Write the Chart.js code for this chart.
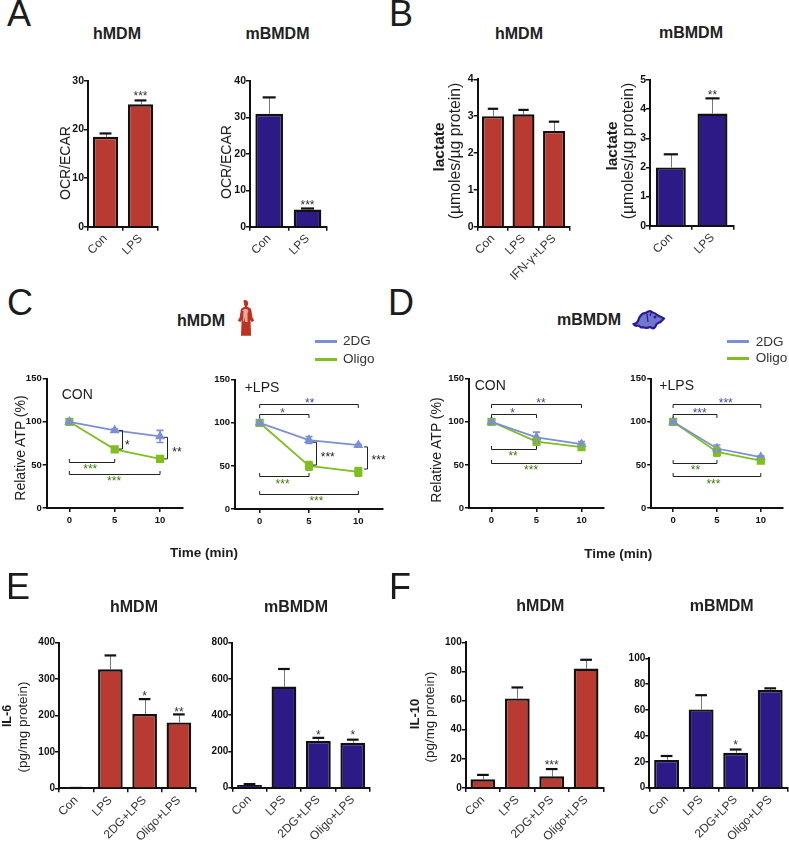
<!DOCTYPE html>
<html><head><meta charset="utf-8">
<script src="https://cdn.jsdelivr.net/npm/chart.js@4"></script>
<style>
html,body{margin:0;padding:0;background:#fff;width:789px;height:843px;overflow:hidden}
#fig{position:relative;width:789px;height:843px;overflow:hidden;font-family:"Liberation Sans",Arial,sans-serif;color:#1c1c1c}
canvas{position:absolute}
.t{position:absolute;white-space:nowrap;line-height:1;transform:translate(-50%,-50%)}
.v{transform:translate(-50%,-50%) rotate(-90deg)}
.l{transform:translate(0,-50%)}
.sw{position:absolute;height:3px}
svg{position:absolute}
</style></head><body><div id="fig"></div>
<script>
// ---------- data ----------
const catsTwo = ['Con','LPS'];
const catsThree = ['Con','LPS','IFN-γ+LPS'];
const catsFour = ['Con','LPS','2DG+LPS','Oligo+LPS'];
const timeTicks = [0,5,10];

const aHumanVals = [18.5,25.2];      const aHumanErr = [19.2,26];
const aMouseVals = [31,4.7];         const aMouseErr = [35.5,5];
const bHumanVals = [3.0,3.05,2.6];   const bHumanErr = [3.2,3.17,2.85];
const bMouseVals = [2.0,3.85];       const bMouseErr = [2.45,4.37];
const eHumanVals = [0,327,204,181];  const eHumanErr = [1,365,245,203];
const eMouseVals = [15,558,258,248]; const eMouseErr = [20,655,275,265];
const fHumanVals = [6,61.5,8,82];    const fHumanErr = [9,69,13,88];
const fMouseVals = [21.5,60.5,27,75.5]; const fMouseErr = [24.5,71.5,29.5,76.8];

const aHumanStars = [[1,27.4,'***']];
const aMouseStars = [[1,6.5,'***']];
const bHumanStars = [];
const bMouseStars = [[1,4.57,'**']];
const eHumanStars = [[2,259,'*'],[3,215,'**']];
const eMouseStars = [[2,302,'*'],[3,302,'*']];
const fHumanStars = [[2,17.6,'***']];
const fMouseStars = [[2,34.8,'*']];

const cConDg = [100,90,83];     const cConDgErr = [0,2,7];
const cConOl = [100,68,57];     const cConOlErr = [0,2,3];
const cLpsDg = [100,80,74];     const cLpsDgErr = [0,4,1];
const cLpsOl = [100,50,43];     const cLpsOlErr = [0,5,5];
const dConDg = [100,82,74];     const dConDgErr = [0,6,3];
const dConOl = [100,77,70.5];   const dConOlErr = [0,4,1.5];
const dLpsDg = [100,69,59];     const dLpsDgErr = [0,4,1.5];
const dLpsOl = [100,65,55];     const dLpsOlErr = [0,5,2];

// significance brackets, in axis units: [from, to, value, tick direction(+1 up from bracket, -1 down), kind]
const cConBrackets = [[0,5,53,1,'k'],[0,10,40,1,'k']];
const cConSides = [[5.84,90,68.4],[10.77,82,57]];
const cConMarks = [[2.3,48,'***','g'],[4.93,34.5,'***','g'],[6.4,76,'*','k'],[11.86,67.7,'**','k']];
const cLpsBrackets = [[0,10,121.4,-1,'k'],[0,5,110,-1,'k'],[0,5,38.3,1,'k'],[0,10,17,1,'k']];
const cLpsSides = [[5.75,77.4,51],[10.88,72,46.4]];
const cLpsMarks = [[5.08,125,'**','b'],[2.32,114.5,'*','b'],[2.32,31.3,'***','g'],[5.75,12,'***','g'],[6.9,63.4,'***','k'],[12.05,59,'***','k']];
const dConBrackets = [[0,10,121,-1,'k'],[0,5,109,-1,'k'],[0,5,68.4,1,'k'],[0,10,52.2,1,'k']];
const dConMarks = [[5.5,124.5,'**','b'],[2.33,113,'*','b'],[2.4,63,'**','g'],[4.4,46.8,'***','g']];
const dLpsBrackets = [[0,10,121,-1,'k'],[0,5,109,-1,'k'],[0,5,52.6,1,'k'],[0,10,37,1,'k']];
const dLpsMarks = [[6.0,124.5,'***','b'],[3.03,113,'***','b'],[2.55,47,'**','g'],[4.6,30.5,'***','g']];

// ---------- styles ----------
const RED='#b93a30', BLUE='#2e1a86', LBLUE='#7b90d4', GREEN='#7fbf1e', INK='#111';
const FONT='"Liberation Sans",Arial,sans-serif';
const KIND={k:'#222',b:'#3b4a96',g:'#3f7a0c'};
const fig=document.getElementById('fig');

function axisCommon(box){
  return {
    border:{color:INK,width:2},
    grid:{drawOnChartArea:false,drawTicks:true,tickLength:4,color:INK,lineWidth:1.5},
    afterFit:s=>{ if(s.isHorizontal()) s.height=box.bottomGap; else s.width=box.leftGap; },
  };
}
function makeCanvas(rect){
  const m={l:50,t:20,r:25,b:62};
  const left=Math.floor(Math.max(0,rect[0]-m.l)), top=Math.floor(rect[1]-m.t);
  const right=Math.ceil(Math.min(789,rect[2]+m.r)), bottom=Math.ceil(Math.min(843,rect[3]+m.b));
  const c=document.createElement('canvas');
  c.width=right-left; c.height=bottom-top;
  c.style.left=left+'px'; c.style.top=top+'px';
  c.style.width=(right-left)+'px'; c.style.height=(bottom-top)+'px';
  fig.appendChild(c);
  return {c,padding:{left:0,top:rect[1]-top,right:right-rect[2],bottom:0},
    box:{leftGap:rect[0]-left,bottomGap:bottom-rect[3]}};
}
function star(ctx,x,y,text,color,size){
  ctx.save();
  ctx.font=size+'px '+FONT; ctx.fillStyle=color; ctx.textAlign='center'; ctx.textBaseline='alphabetic';
  ctx.fillText(text,x,y+size*0.52);
  ctx.restore();
}
function barPanel(rect,cats,vals,errs,stars,color,maxV,step,tickSize){
  const {c,padding,box}=makeCanvas(rect);
  const marks={id:'marks',
    beforeDatasetsDraw(ch){
      const ctx=ch.ctx,x=ch.scales.x,y=ch.scales.y;
      const capHalf=(x.getPixelForValue(1)-x.getPixelForValue(0))*0.17;
      ctx.save();
      errs.forEach((e,i)=>{
        const px=x.getPixelForValue(i),p0=y.getPixelForValue(vals[i]),p1=y.getPixelForValue(e);
        ctx.strokeStyle='#777';ctx.lineWidth=1;
        ctx.beginPath();ctx.moveTo(Math.round(px)+.5,p0);ctx.lineTo(Math.round(px)+.5,p1);ctx.stroke();
        ctx.strokeStyle=INK;ctx.lineWidth=2.2;
        ctx.beginPath();ctx.moveTo(px-capHalf,p1);ctx.lineTo(px+capHalf,p1);ctx.stroke();
      });
      ctx.restore();
    },
    afterDatasetsDraw(ch){
      const x=ch.scales.x,y=ch.scales.y;
      stars.forEach(s=>star(ch.ctx,x.getPixelForValue(s[0]),y.getPixelForValue(s[1]),s[2],'#333',12));
    }};
  new Chart(c,{type:'bar',
    data:{labels:cats,datasets:[{data:vals,backgroundColor:color,borderColor:INK,borderWidth:2.4,borderSkipped:'bottom',
      barPercentage:0.72,categoryPercentage:1}]},
    plugins:[marks],
    options:{responsive:false,animation:false,devicePixelRatio:1,
      layout:{padding},
      plugins:{legend:{display:false},tooltip:{enabled:false},title:{display:false}},
      scales:{
        x:Object.assign(axisCommon(box),{type:'category',
          ticks:{minRotation:45,maxRotation:45,autoSkip:false,padding:1,color:'#333',font:{family:FONT,size:12}}}),
        y:Object.assign(axisCommon(box),{min:0,max:maxV,
          ticks:{stepSize:step,padding:0,color:INK,font:{family:FONT,size:tickSize,weight:'bold'}}})
      }}});
}
function linePanel(rect,dg,dgE,ol,olE,brackets,sides,labels){
  const {c,padding,box}=makeCanvas(rect);
  const marks={id:'marks',
    afterDatasetsDraw(ch){
      const ctx=ch.ctx,x=ch.scales.x,y=ch.scales.y;
      ctx.save();
      [[dg,dgE,LBLUE],[ol,olE,GREEN]].forEach(([v,e,col])=>{
        v.forEach((val,i)=>{ if(!e[i])return;
          const px=x.getPixelForValue(timeTicks[i]),a=y.getPixelForValue(val+e[i]),b=y.getPixelForValue(val-e[i]);
          ctx.strokeStyle=col;ctx.lineWidth=1.6;
          ctx.beginPath();ctx.moveTo(px,a);ctx.lineTo(px,b);
          ctx.moveTo(px-3.5,a);ctx.lineTo(px+3.5,a);ctx.moveTo(px-3.5,b);ctx.lineTo(px+3.5,b);ctx.stroke();
        });
      });
      ctx.lineWidth=1;
      brackets.forEach(b=>{
        const a=x.getPixelForValue(b[0]),d=x.getPixelForValue(b[1]),p=Math.round(y.getPixelForValue(b[2]))+.5,t=-b[3]*3.5;
        ctx.strokeStyle=KIND[b[4]];
        ctx.beginPath();ctx.moveTo(a,p+t);ctx.lineTo(a,p);ctx.lineTo(d,p);ctx.lineTo(d,p+t);ctx.stroke();
      });
      sides.forEach(s=>{
        const px=Math.round(x.getPixelForValue(s[0]))+.5,a=y.getPixelForValue(s[1]),b=y.getPixelForValue(s[2]);
        ctx.strokeStyle='#222';
        ctx.beginPath();ctx.moveTo(px-3.5,a);ctx.lineTo(px,a);ctx.lineTo(px,b);ctx.lineTo(px-3.5,b);ctx.stroke();
      });
      ctx.restore();
      labels.forEach(m=>star(ctx,x.getPixelForValue(m[0]),y.getPixelForValue(m[1]),m[2],KIND[m[3]],12));
    }};
  const toXY=v=>v.map((val,i)=>({x:timeTicks[i],y:val}));
  new Chart(c,{type:'line',
    data:{datasets:[
      {label:'2DG',data:toXY(dg),borderColor:LBLUE,backgroundColor:LBLUE,borderWidth:1.8,pointStyle:'triangle',pointRadius:4,tension:0},
      {label:'Oligo',data:toXY(ol),borderColor:GREEN,backgroundColor:GREEN,borderWidth:1.8,pointStyle:'rect',pointRadius:4.5,tension:0}
    ]},
    plugins:[marks],
    options:{responsive:false,animation:false,devicePixelRatio:1,
      layout:{padding},
      plugins:{legend:{display:false},tooltip:{enabled:false},title:{display:false}},
      scales:{
        x:Object.assign(axisCommon(box),{type:'linear',min:-2.5,max:12.5,
          afterBuildTicks:s=>{s.ticks=timeTicks.map(v=>({value:v}));},
          ticks:{maxRotation:0,padding:3,color:INK,font:{family:FONT,size:9.5,weight:'bold'},callback:v=>String(v)}}),
        y:Object.assign(axisCommon(box),{min:0,max:150,
          ticks:{stepSize:50,padding:1,color:INK,font:{family:FONT,size:9.5,weight:'bold'}}})
      }}});
}
function txt(s,x,y,size,opt){
  opt=opt||{};
  const d=document.createElement('div');
  d.className='t'+(opt.v?' v':'')+(opt.l?' l':'');
  d.textContent=s;
  d.style.left=x+'px';d.style.top=y+'px';d.style.fontSize=size+'px';
  if(opt.b)d.style.fontWeight='bold';
  if(opt.c)d.style.color=opt.c;
  fig.appendChild(d);
}
function legendBlock(x0,x1,xt,y1,y2){
  [[y1,LBLUE,'2DG'],[y2,GREEN,'Oligo']].forEach(([y,col,name])=>{
    const s=document.createElement('div');s.className='sw';
    s.style.left=x0+'px';s.style.width=(x1-x0)+'px';s.style.top=(y-1.5)+'px';s.style.background=col;
    fig.appendChild(s);
    txt(name,xt,y,13.5,{l:1,c:'#333'});
  });
}

// ---------- charts ----------
barPanel([88,81,158,226.7],catsTwo,aHumanVals,aHumanErr,aHumanStars,RED,30,10,10.5);
barPanel([250,81,326.7,226.7],catsTwo,aMouseVals,aMouseErr,aMouseStars,BLUE,40,10,10.5);
barPanel([477.7,79.3,569.3,226.7],catsThree,bHumanVals,bHumanErr,bHumanStars,RED,4,1,10.5);
barPanel([650,80,733.3,225.7],catsTwo,bMouseVals,bMouseErr,bMouseStars,BLUE,5,1,10.5);

linePanel([46.7,378.7,182.7,508],cConDg,cConDgErr,cConOl,cConOlErr,cConBrackets,cConSides,cConMarks);
linePanel([235,379.7,383,509],cLpsDg,cLpsDgErr,cLpsOl,cLpsOlErr,cLpsBrackets,cLpsSides,cLpsMarks);
linePanel([469,378.7,604,508],dConDg,dConDgErr,dConOl,dConOlErr,dConBrackets,[],dConMarks);
linePanel([651.2,378.7,786,508],dLpsDg,dLpsDgErr,dLpsOl,dLpsOlErr,dLpsBrackets,[],dLpsMarks);

barPanel([59,642.7,196,788.3],catsFour,eHumanVals,eHumanErr,eHumanStars,RED,400,100,10);
barPanel([232.3,642.7,370,787.7],catsFour,eMouseVals,eMouseErr,eMouseStars,BLUE,800,200,10);
barPanel([465.7,642.3,603.3,788],catsFour,fHumanVals,fHumanErr,fHumanStars,RED,100,20,10);
barPanel([649.3,658.3,787.5,787.7],catsFour,fMouseVals,fMouseErr,fMouseStars,BLUE,100,20,10);

// ---------- figure text ----------
[['A',19,14],['B',401,14],['C',20,303],['D',401,303],['E',18,587],['F',400,587]]
  .forEach(a=>txt(a[0],a[1],a[2],36));
[['hMDM',117,34],['mBMDM',277.5,34],['hMDM',519,34],['mBMDM',691,33],['hMDM',201,321],['mBMDM',589,320],
 ['hMDM',134,607],['mBMDM',296,607],['hMDM',540.3,606],['mBMDM',721.7,606]]
  .forEach(a=>txt(a[0],a[1],a[2],16,{b:1,c:'#222'}));
txt('OCR/ECAR',65,163,14,{v:1});
txt('OCR/ECAR',225.5,162,14,{v:1});
txt('lactate',439,147,15.5,{v:1,b:1});
txt('(µmoles/µg protein)',455,151,15.8,{v:1});
txt('lactate',611.7,146,15.5,{v:1,b:1});
txt('(µmoles/µg protein)',627.7,150.5,15.8,{v:1});
txt('Relative ATP (%)',20,448.3,14,{v:1});
txt('Relative ATP (%)',436.3,449.5,14,{v:1});
txt('Time (min)',204,552.7,13.5,{b:1});
txt('Time (min)',618.3,554.3,13.5,{b:1});
txt('CON',77.3,394.3,14);
txt('+LPS',262,386.7,14);
txt('CON',490.3,384.7,14);
txt('+LPS',676.7,385,14);
txt('IL-6',6.5,715.8,12.5,{v:1,b:1});
txt('(pg/mg protein)',22.7,727,13.4,{v:1});
txt('IL-10',414,713.8,13,{v:1,b:1});
txt('(pg/mg protein)',430,717,13.4,{v:1});
legendBlock(315,336.7,343,341,359);
legendBlock(727.3,749,755.7,341.7,358.3);

// ---------- small icons ----------
fig.insertAdjacentHTML('beforeend',
 '<svg style="left:234px;top:298px" width="22" height="40" viewBox="0 0 22 40">'+
 '<path d="M11 2c2.200 0 3.200 1.700 3.200 3.600 0 1.300-.6 2.300-1.200 3l3 1.400c1 .6 1.300 1.800 1.500 3.200l1 6.200 1.700 3.200-2.400 1.600-1.300-2.200.6 15.800H7l.6-15.800-1.300 2.200-2.400-1.600 1.700-3.200 1-6.200c.2-1.400.5-2.600 1.500-3.200l3-1.400c-.6-.7-1.200-1.700-1.200-3C9.800 3.700 8.800 2 11 2z" fill="#bb3322"/>'+
 '<path d="M10 11h3l1.500 2-1 2 .2 9H11l-.2-5-1 4.500H9l.5-10.500L8 13z" fill="#eaa9a0"/></svg>'+
 '<svg style="left:632px;top:308px" width="34" height="23" viewBox="0 0 34 23">'+
 '<path d="M1.500 16c2.500 0 3.500-1 4.500-3 1-4 4-8.500 8-8 2-2.500 5-2.500 6.500-.5 2 .3 3.500 1.200 5 2.800L32 10.500c-2 2.500-4.500 4.500-7.500 5.500-.5 2-1.500 4-3.500 4.500l-3-1.500c-2 1-5 1-7 .2L9 19.500 6.500 17.500c-1.500 .5-3.500 .5-5-1.500z" fill="#6f78cc" stroke="#2e1a96" stroke-width="2.200" stroke-linejoin="round"/>'+
 '<circle cx="23" cy="9" r="1.500" fill="#2e1a96"/><path d="M15 6l1 8M19 5l-1 3" stroke="#2e1a96" stroke-width="1.200" fill="none"/></svg>');
</script>
</body></html>
